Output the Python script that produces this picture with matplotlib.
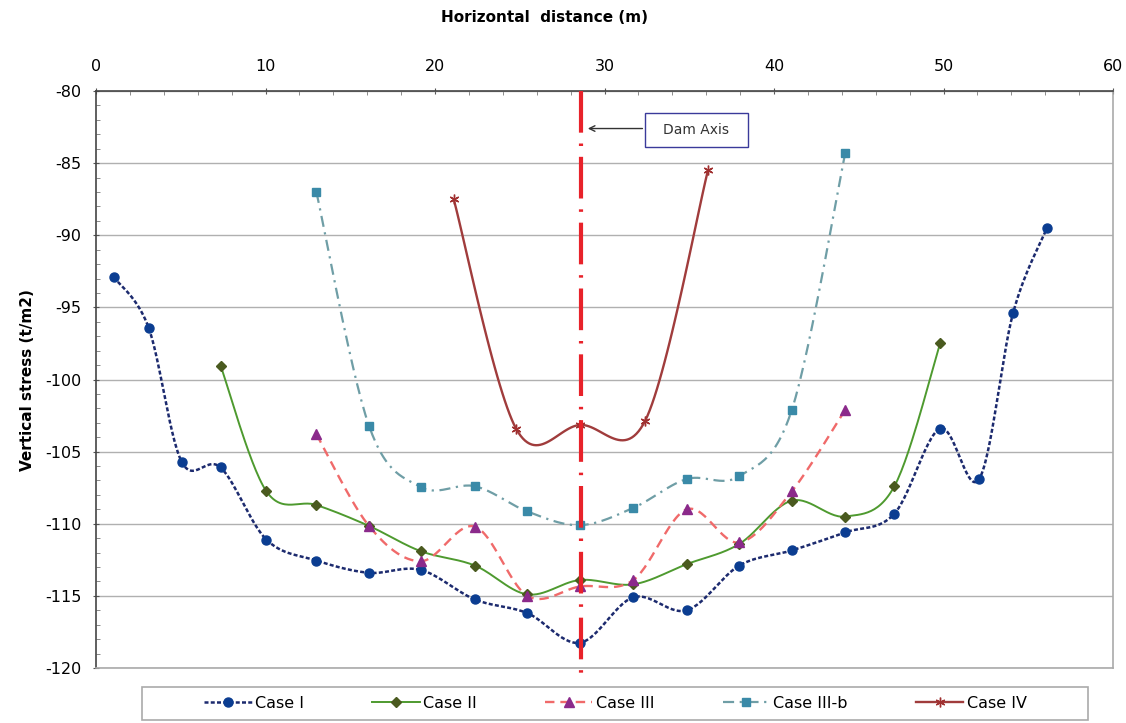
import numpy as np
import matplotlib
matplotlib.use("Agg")
import matplotlib.pyplot as plt
from matplotlib.patches import Rectangle
from matplotlib.ticker import MultipleLocator

plt.rcParams["axes.unicode_minus"] = False

# ---------------- data ----------------
case1_x = [1.05, 3.1, 5.05, 7.35, 10.05, 13.0, 16.1, 19.15, 22.35, 25.45, 28.55,
           31.7, 34.85, 37.95, 41.05, 44.2, 47.1, 49.8, 52.1, 54.1, 56.1]
case1_y = [-92.9, -96.4, -105.7, -106.1, -111.1, -112.55, -113.4, -113.2, -115.25, -116.2, -118.25,
           -115.1, -116.0, -112.9, -111.85, -110.6, -109.3, -103.4, -106.9, -95.4, -89.5]

case2_x = [7.35, 10.05, 13.0, 16.1, 19.15, 22.35, 25.45, 28.55, 31.7, 34.85, 37.95, 41.05, 44.2, 47.1, 49.8]
case2_y = [-99.05, -107.75, -108.7, -110.15, -111.9, -112.9, -114.9, -113.9, -114.2, -112.8, -111.4,
           -108.4, -109.5, -107.4, -97.5]

case3_x = [13.0, 16.1, 19.15, 22.35, 25.45, 28.55, 31.7, 34.85, 37.95, 41.05, 44.2]
case3_y = [-103.8, -110.15, -112.6, -110.2, -115.0, -114.35, -113.9, -109.0, -111.3, -107.75, -102.1]

case3b_x = [13.0, 16.1, 19.15, 22.35, 25.45, 28.55, 31.7, 34.85, 37.95, 41.05, 44.2]
case3b_y = [-87.0, -103.2, -107.45, -107.4, -109.15, -110.1, -108.9, -106.9, -106.7, -102.1, -84.3]

case4_x = [21.1, 24.8, 28.55, 32.4, 36.1]
case4_y = [-87.5, -103.45, -103.15, -102.85, -85.5]

series_labels = ["Case I", "Case II", "Case III", "Case III-b", "Case IV"]
dam_axis_x = 28.6
x_ticks = [0, 10, 20, 30, 40, 50, 60]
y_ticks = [-80, -85, -90, -95, -100, -105, -110, -115, -120]


def smooth(xs, ys, n=30):
    """Excel-like smoothed line (Catmull-Rom Bezier)."""
    p = np.column_stack([xs, ys]).astype(float)
    pts = np.vstack([p[0], p, p[-1]])
    out = []
    t = np.linspace(0, 1, n)[:, None]
    for i in range(1, len(pts) - 2):
        p0, p1, p2, p3 = pts[i - 1], pts[i], pts[i + 1], pts[i + 2]
        c1 = p1 + (p2 - p0) / 6.0
        c2 = p2 - (p3 - p1) / 6.0
        seg = ((1 - t) ** 3) * p1 + 3 * ((1 - t) ** 2) * t * c1 + 3 * (1 - t) * t ** 2 * c2 + t ** 3 * p2
        out.append(seg if i == 1 else seg[1:])
    out = np.vstack(out)
    return out[:, 0], out[:, 1]


W, H = 1126, 723
fig = plt.figure(figsize=(W / 100, H / 100), dpi=100)
ax = fig.add_axes([0.0853, 0.0761, 0.9032, 0.798])

ax.set_xlim(0, 60)
ax.set_ylim(-120, -80)

ax.yaxis.grid(True, color="#b0b0b0", linewidth=1.0)
ax.set_axisbelow(True)

styles = [
    dict(x=case1_x, y=case1_y, color="#1c2a6e", ls=(0, (1.6, 0.9)), lw=1.8,
         marker="o", ms=6.5, mc="#0b3d91"),
    dict(x=case2_x, y=case2_y, color="#4e9a2f", ls="-", lw=1.4,
         marker="D", ms=5, mc="#4a5a1f"),
    dict(x=case3_x, y=case3_y, color="#f06a6a", ls=(0, (4, 2.5)), lw=1.7,
         marker="^", ms=7.5, mc="#8b2a8b"),
    dict(x=case3b_x, y=case3b_y, color="#6f9ea6", ls=(0, (5, 2.5, 1, 2.5)), lw=1.6,
         marker="s", ms=6, mc="#3a8aa8"),
    dict(x=case4_x, y=case4_y, color="#a03c3c", ls="-", lw=1.7,
         marker=(6, 2, 0), ms=7, mc="#a03030"),
]

handles = []
for s, lab in zip(styles, series_labels):
    sx, sy = smooth(s["x"], s["y"])
    ax.plot(sx, sy, color=s["color"], linestyle=s["ls"], linewidth=s["lw"], zorder=3)
    ax.plot(s["x"], s["y"], linestyle="none", marker=s["marker"], markersize=s["ms"],
            markerfacecolor=s["mc"], markeredgecolor=s["mc"], zorder=4)
    h, = ax.plot([], [], color=s["color"], linestyle=s["ls"], linewidth=s["lw"],
                 marker=s["marker"], markersize=s["ms"], markerfacecolor=s["mc"],
                 markeredgecolor=s["mc"], label=lab)
    handles.append(h)

# Dam axis
ax.plot([dam_axis_x, dam_axis_x], [-80, -120.8], color="#e8222a", linewidth=3,
        linestyle=(0, (10, 2.6, 0.6, 2.6)), clip_on=False, zorder=5)
ax.add_patch(Rectangle((32.4, -83.85), 6.05, 2.3, facecolor="white",
                       edgecolor="#3a3a9a", linewidth=1.0, zorder=6))
ax.text(35.4, -82.7, "Dam Axis", ha="center", va="center", fontsize=10,
        color="#333333", zorder=7)
ax.annotate("", xy=(dam_axis_x + 0.25, -82.6), xytext=(32.4, -82.6),
            arrowprops=dict(arrowstyle="->", color="#333333", lw=1.0), zorder=7)

# axes styling
ax.xaxis.tick_top()
ax.set_xticks(x_ticks)
ax.set_yticks(y_ticks)
ax.xaxis.set_minor_locator(MultipleLocator(2))
ax.yaxis.set_minor_locator(MultipleLocator(1))
ax.tick_params(axis="both", which="major", labelsize=11.5, length=5, direction="inout",
               color="#555555")
ax.tick_params(axis="y", which="major", pad=8)
ax.tick_params(axis="x", which="major", pad=10)
ax.tick_params(axis="both", which="minor", length=3, direction="in", color="#777777")
for side in ["top", "left"]:
    ax.spines[side].set_color("#444444")
    ax.spines[side].set_linewidth(1.2)
for side in ["bottom", "right"]:
    ax.spines[side].set_color("#aaaaaa")
    ax.spines[side].set_linewidth(1.2)

fig.text(0.484, 0.976, "Horizontal  distance (m)", ha="center", va="center",
         fontsize=11, fontweight="bold")
fig.text(0.024, 0.475, "Vertical stress (t/m2)", ha="center", va="center",
         rotation=90, fontsize=11, fontweight="bold")

# legend frame (figure pixels 142..1088 x 687..720)
fig.patches.append(Rectangle((142 / W, 1 - 720 / H), (1088 - 142) / W, 33 / H,
                             transform=fig.transFigure, facecolor="white",
                             edgecolor="#aaaaaa", linewidth=1.2, zorder=0))
leg = fig.legend(handles=handles, loc="center", ncol=5,
                 bbox_to_anchor=(615.5 / W, 1 - 703.5 / H), fontsize=11.5,
                 frameon=False, handlelength=2.95, handletextpad=0.2,
                 columnspacing=4.3, borderpad=0.2, borderaxespad=0.0)

fig.savefig("out.png", dpi=100)
